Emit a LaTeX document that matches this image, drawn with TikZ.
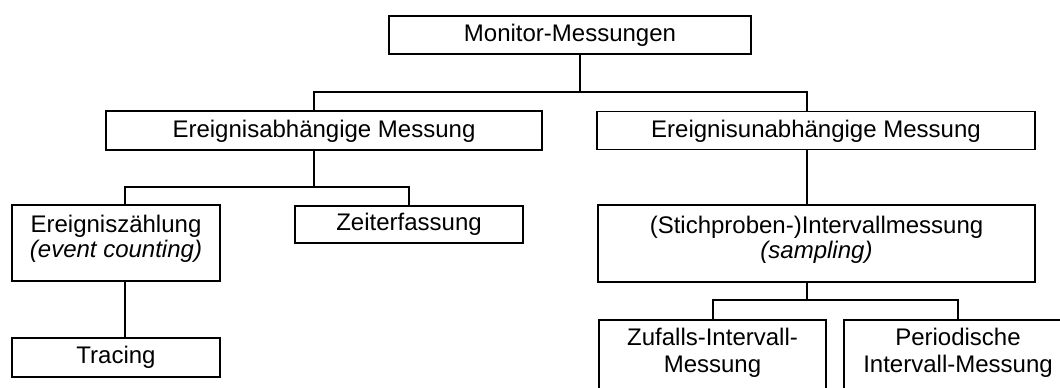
\documentclass[tikz,border=0pt]{standalone}
\usepackage{fontspec}
\setmainfont{Liberation Sans}
\begin{document}
\begin{tikzpicture}[x=1pt,y=-1pt,
  box/.style={draw=black,line width=1.3pt,rectangle,inner sep=0pt,minimum width=#1},
  lbl/.style={anchor=base,inner sep=0pt,font=\fontsize{24}{28}\selectfont},
  link/.style={draw=black,line width=1.3pt}]
\useasboundingbox (0,0) rectangle (1060,388);
\clip (0,0) rectangle (1060,388);
\fill[white] (0,0) rectangle (1060,388);
% boxes
\node[box=362pt,minimum height=38pt] (top) at (570,35) {};
\node[box=436pt,minimum height=39pt] (l1) at (324,130.5) {};
\node[box=438pt,minimum height=38pt] (r1) at (816,130.5) {};
\node[box=208pt,minimum height=76pt] (ez) at (116,243) {};
\node[box=228pt,minimum height=37pt] (zeit) at (409,224.5) {};
\node[box=208pt,minimum height=39pt] (tr) at (116,357.5) {};
\node[box=437pt,minimum height=77pt] (st) at (816.5,243.5) {};
\node[box=227pt,minimum height=80pt] (zuf) at (712.5,360) {};
\node[box=228pt,minimum height=80pt] (per) at (958,360) {};
% texts
\node[lbl] (topt) at (570,41.5) {Monitor-Messungen};
\node[lbl] (l1t) at (324,137) {Ereignisabhängige Messung};
\node[lbl] (r1t) at (816,137) {Ereignisunabhängige Messung};
\node[lbl] (ezt1) at (116,232) {Ereigniszählung};
\node[lbl] (ezt2) at (116,257) {\itshape (event counting)};
\node[lbl] (zeitt) at (409,230.5) {Zeiterfassung};
\node[lbl] (trt) at (116,363) {Tracing};
\node[lbl] (stt1) at (816.5,233) {(Stichproben-)Intervallmessung};
\node[lbl] (stt2) at (816.5,258) {\itshape (sampling)};
\node[lbl] (zuft1) at (712.5,345) {Zufalls-Intervall-};
\node[lbl] (zuft2) at (712.5,372) {Messung};
\node[lbl] (pert1) at (958,345) {Periodische};
\node[lbl] (pert2) at (958,372) {Intervall-Messung};
% junctions
\coordinate (j0) at (580,92);
\coordinate (b1) at (314,92);
\coordinate (b2) at (807,92);
\coordinate (j1) at (314,187);
\coordinate (c1) at (125,187);
\coordinate (c2) at (409,187);
\coordinate (j2) at (807,300);
\coordinate (d1) at (713,300);
\coordinate (d2) at (958,300);
% connectors
\draw[link] (top.south -| j0) -- (j0);
\draw[link] (l1.north -| b1) -- (b1) -- (b2) -- (r1.north -| b2);
\draw[link] (l1.south -| j1) -- (j1);
\draw[link] (ez.north -| c1) -- (c1) -- (c2) -- (zeit.north -| c2);
\draw[link] (ez.south -| c1) -- (tr.north -| c1);
\draw[link] (r1.south -| b2) -- (st.north -| b2);
\draw[link] (st.south -| j2) -- (j2);
\draw[link] (zuf.north -| d1) -- (d1) -- (d2) -- (per.north -| d2);
\end{tikzpicture}
\end{document}
